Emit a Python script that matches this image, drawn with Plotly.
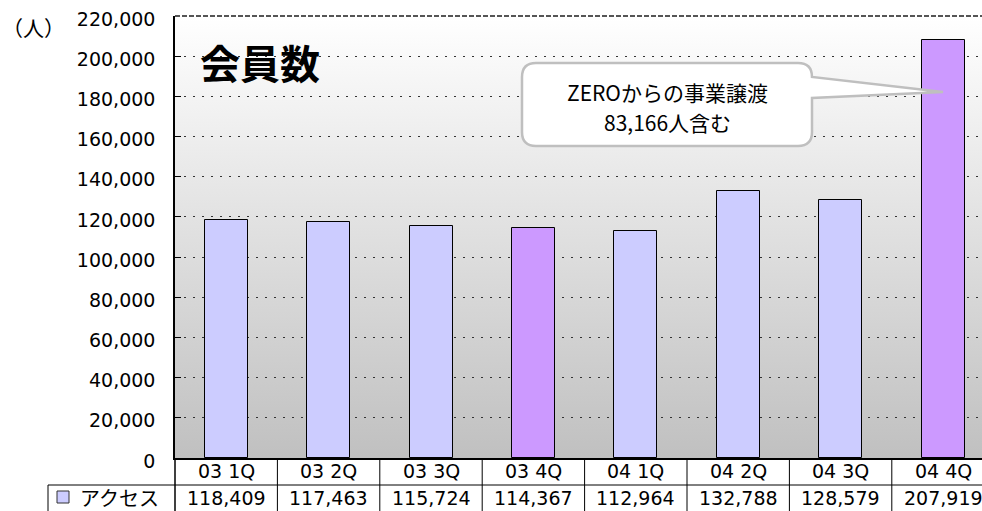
import base64
import plotly.graph_objects as go

# ---------------- data ----------------
categories = ["03 1Q", "03 2Q", "03 3Q", "03 4Q", "04 1Q", "04 2Q", "04 3Q", "04 4Q"]
members = [118409, 117463, 115724, 114367, 112964, 132788, 128579, 207919]
bar_colors = ["#CCCCFF", "#CCCCFF", "#CCCCFF", "#CC99FF", "#CCCCFF", "#CCCCFF", "#CCCCFF", "#CC99FF"]
series_name = "アクセス"
title_text = "会員数"
unit_text = "（人）"
callout_lines = ["ZEROからの事業譲渡", "83,166人含む"]
y_ticks = list(range(0, 220001, 20000))

# ---------------- layout geometry ----------------
W, H = 982, 511
L, T = 175, 16
PW, PH = 807, 442
CAT_W = 102.4
XR = [-0.5, -0.5 + PW / CAT_W]
YR = [0, 220000]

def dx(px):  # pixel -> data x
    return XR[0] + (px - L) / CAT_W

def dy(py):  # pixel -> data y
    return (T + PH - py) / PH * (YR[1] - YR[0])

def ppx(px):  # pixel -> paper x
    return (px - L) / PW

def ppy(py):  # pixel -> paper y
    return (T + PH - py) / PH

fig = go.Figure()
fig.add_trace(go.Bar(
    x=list(range(len(categories))), y=members,
    marker=dict(color=bar_colors, line=dict(color="black", width=1)),
    width=0.42, name=series_name, showlegend=False, hoverinfo="skip",
))

# gradient background
svg = ("<svg xmlns='http://www.w3.org/2000/svg' width='10' height='100' preserveAspectRatio='none'>"
       "<defs><linearGradient id='g' x1='0' y1='0' x2='0' y2='1'>"
       "<stop offset='0' stop-color='#FFFFFF'/><stop offset='1' stop-color='#C0C0C0'/>"
       "</linearGradient></defs><rect width='10' height='100' fill='url(#g)'/></svg>")
src = "data:image/svg+xml;base64," + base64.b64encode(svg.encode()).decode()

shapes = []
# top border (dashed gray)
shapes.append(dict(type="line", xref="paper", yref="paper", x0=0, x1=1, y0=1, y1=1,
                   line=dict(color="#555555", width=2, dash="5px,2px")))
# table lines
ROW1 = 485
shapes.append(dict(type="line", xref="paper", yref="paper", x0=ppx(48), x1=1.01,
                   y0=ppy(ROW1), y1=ppy(ROW1), line=dict(color="black", width=1)))
shapes.append(dict(type="line", xref="paper", yref="paper", x0=0, x1=0,
                   y0=0, y1=-0.2, line=dict(color="black", width=1.5)))
shapes.append(dict(type="line", xref="paper", yref="paper", x0=ppx(48), x1=ppx(48),
                   y0=ppy(ROW1), y1=-0.2, line=dict(color="black", width=1)))
for i in range(len(categories) - 1):
    shapes.append(dict(type="line", xref="x", yref="paper", x0=i + 0.5, x1=i + 0.5,
                       y0=0, y1=-0.2, line=dict(color="black", width=1)))
# legend square
shapes.append(dict(type="rect", xref="paper", yref="paper", x0=ppx(57), x1=ppx(69),
                   y0=ppy(503), y1=ppy(491), fillcolor=bar_colors[0],
                   line=dict(color="#333333", width=1)))

# callout bubble
bx0, bx1, by0, by1, r = 522, 812, 63, 146, 14
tip_x, tip_y = 943, 92
pts = [
    ("M", (bx0 + r, by0)), ("L", (bx1 - r, by0)), ("Q", (bx1, by0), (bx1, by0 + r)),
    ("L", (tip_x, tip_y)), ("L", (bx1, 98)),
    ("L", (bx1, by1 - r)), ("Q", (bx1, by1), (bx1 - r, by1)),
    ("L", (bx0 + r, by1)), ("Q", (bx0, by1), (bx0, by1 - r)),
    ("L", (bx0, by0 + r)), ("Q", (bx0, by0), (bx0 + r, by0)),
]
path = ""
for p in pts:
    cmd = p[0]
    coords = " ".join(f"{dx(a):.5f},{dy(b):.2f}" for a, b in p[1:])
    path += f"{cmd}{coords} "
path += "Z"
shapes.append(dict(type="path", xref="x", yref="y", path=path, fillcolor="white",
                   line=dict(color="#BFBFBF", width=2.5), layer="above"))

annotations = []
annotations.append(dict(text="<b>" + title_text + "</b>", xref="paper", yref="paper",
                        x=ppx(260), y=ppy(62), showarrow=False,
                        font=dict(family="Noto Sans CJK JP", size=40, color="black"),
                        xanchor="center", yanchor="middle"))
annotations.append(dict(text=unit_text, xref="paper", yref="paper", x=ppx(33), y=ppy(27),
                        showarrow=False, font=dict(family="Noto Sans CJK JP", size=21, color="black"),
                        xanchor="center", yanchor="middle"))
for k, line in enumerate(callout_lines):
    annotations.append(dict(text=line, xref="x", yref="y", x=dx((bx0 + bx1) / 2), y=dy(92 + 30 * k),
                            showarrow=False, font=dict(family="Noto Sans CJK JP", size=21, color="black"),
                            xanchor="center", yanchor="middle"))
num_font = dict(family="DejaVu Sans", size=19, color="black")
for i, (c, v) in enumerate(zip(categories, members)):
    annotations.append(dict(text=c, xref="x", yref="paper", x=i, y=ppy(471.5), showarrow=False,
                            font=num_font, xanchor="center", yanchor="middle"))
    annotations.append(dict(text=f"{v:,}", xref="x", yref="paper", x=i, y=ppy(498.5), showarrow=False,
                            font=num_font, xanchor="center", yanchor="middle"))
annotations.append(dict(text=series_name, xref="paper", yref="paper", x=ppx(78), y=ppy(498),
                        showarrow=False, font=dict(family="Noto Sans CJK JP", size=20, color="black"),
                        xanchor="left", yanchor="middle"))

fig.update_layout(
    width=W, height=H,
    margin=dict(l=L, r=W - L - PW, t=T, b=H - T - PH, pad=0),
    paper_bgcolor="white", plot_bgcolor="rgba(0,0,0,0)",
    images=[dict(source=src, xref="paper", yref="paper", x=0, y=1, sizex=1, sizey=1,
                 xanchor="left", yanchor="top", sizing="stretch", layer="below")],
    shapes=shapes, annotations=annotations,
    bargap=0, showlegend=False,
    xaxis=dict(range=XR, showgrid=False, zeroline=False, showticklabels=False, ticks="",
               showline=True, linecolor="black", linewidth=1.5, fixedrange=True),
    yaxis=dict(range=YR, tickvals=y_ticks, ticktext=[f"{t:,}" for t in y_ticks],
               showgrid=True, gridcolor="#333333", griddash="2px,7px", gridwidth=1,
               zeroline=False, showline=True, linecolor="black", linewidth=1.5,
               ticks="inside", ticklen=6, tickcolor="black", tickwidth=1,
               ticklabelstandoff=14, ticklabelshift=3,
               tickfont=num_font, fixedrange=True),
)

fig.write_html("out.html", config={"displayModeBar": False},
               post_script="document.body.style.margin='0';document.body.style.overflow='hidden';")
